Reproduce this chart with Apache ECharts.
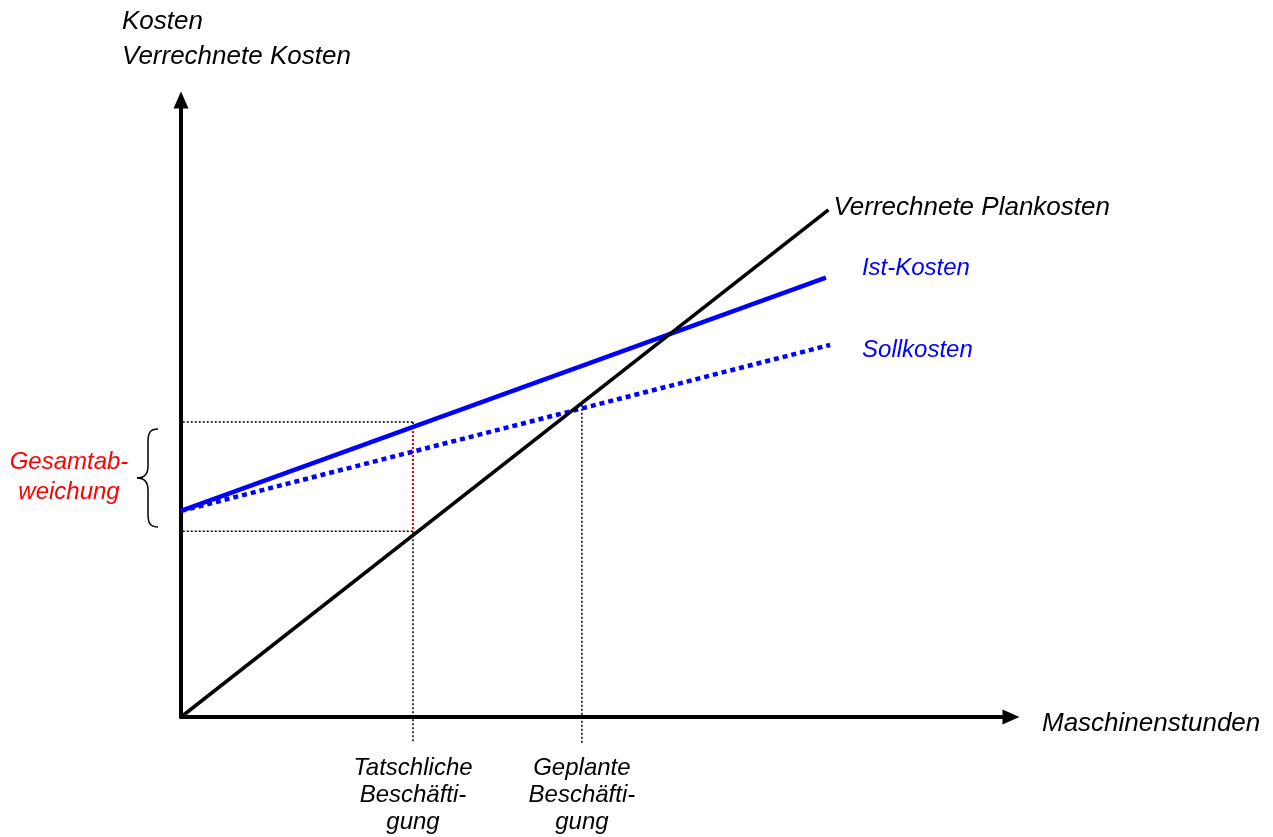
<!DOCTYPE html>
<html>
<head>
<meta charset="utf-8">
<script src="https://cdn.jsdelivr.net/npm/echarts@6/dist/echarts.min.js"></script>
<style>html,body{margin:0;padding:0;background:#fff}#main{width:1273px;height:837px}</style>
</head>
<body>
<div id="main"></div>
<script>
// Kostengeraden (x = Maschinenstunden, y = Kosten), Endpunkte
var plankosten = [[0, 0], [78, 82.2]];
var istKosten = [[0, 33.4], [77.7, 71.2]];
var sollKosten = [[0, 33.4], [78.2, 60.3]];
// Beschäftigung auf der x-Achse
var tatsaechlich = 27.95;
var geplant = 48.3;
var beschLabels = ['Tatschliche\nBeschäfti-\ngung', 'Geplante\nBeschäfti-\ngung'];
// Hilfslinien Gesamtabweichung
var istBeiTat = 47.8;
var rotOben = 47.0;
var planBeiTat = 30.1;
var sollBeiPlan = 50.6;
var hilfsLinks = -2.2;
var hilfsUnten = -4.2;

var FONT = 'Liberation Sans, Arial, sans-serif';
var chart = echarts.init(document.getElementById('main'));

function hilfslinie(data, color, width) {
    return {
        type: 'line', data: data, symbol: 'none', clip: false, silent: true, z: 1,
        lineStyle: { color: color || '#000', width: width || 1.5, type: [2, 2] }
    };
}
function kostenlinie(data, name, color, width, type, offset, size) {
    return {
        type: 'line', name: name, data: data, symbol: 'none', clip: false, z: 5,
        lineStyle: { color: color, width: width, type: type },
        endLabel: {
            show: true, formatter: name, offset: offset, distance: 4,
            color: color, fontStyle: 'italic', fontSize: size, fontFamily: FONT
        }
    };
}

var achse = { show: true, symbol: ['none', 'triangle'], symbolSize: [15, 17], lineStyle: { color: '#000', width: 4 } };

var option = {
    animation: false,
    grid: { left: 181, top: 100, right: 262, bottom: 120, outerBoundsMode: 'none', containLabel: false },
    xAxis: {
        type: 'value', min: 0, max: 100,
        name: 'Maschinenstunden', nameLocation: 'end', nameGap: 31,
        nameTextStyle: { fontStyle: 'italic', fontSize: 26, fontFamily: FONT, color: '#000', verticalAlign: 'top', lineHeight: 14 },
        axisLine: achse,
        axisTick: { show: false },
        splitLine: { show: false },
        axisLabel: {
            show: true, customValues: [tatsaechlich, geplant], margin: 38,
            formatter: function (v) { return v === tatsaechlich ? beschLabels[0] : beschLabels[1]; },
            fontStyle: 'italic', fontSize: 24, fontFamily: FONT, color: '#000', lineHeight: 27
        }
    },
    yAxis: {
        type: 'value', min: 0, max: 100,
        axisLine: achse,
        axisTick: { show: false },
        splitLine: { show: false },
        axisLabel: { show: false }
    },
    series: [
        hilfslinie([[hilfsLinks, istBeiTat], [tatsaechlich, istBeiTat]]),
        hilfslinie([[hilfsLinks, planBeiTat], [tatsaechlich, planBeiTat]]),
        hilfslinie([[tatsaechlich, istBeiTat], [tatsaechlich, rotOben]]),
        hilfslinie([[tatsaechlich, planBeiTat], [tatsaechlich, hilfsUnten]]),
        hilfslinie([[geplant, sollBeiPlan], [geplant, hilfsUnten]]),
        hilfslinie([[tatsaechlich, rotOben], [tatsaechlich, planBeiTat]], '#ff0000', 2.2),
        kostenlinie(sollKosten, 'Sollkosten', '#0000ff', 4.5, [5, 4], [28, 5], 24),
        kostenlinie(istKosten, 'Ist-Kosten', '#0000ff', 4.5, 'solid', [32, -9], 24),
        kostenlinie(plankosten, 'Verrechnete Plankosten', '#000', 3.5, 'solid', [1, -2], 26)
    ],
    graphic: [
        { type: 'text', x: 122, y: 4, style: { text: 'Kosten\nVerrechnete Kosten', font: 'italic 26px ' + FONT, lineHeight: 35, fill: '#000' } },
        { type: 'text', x: 69, y: 447, style: { text: 'Gesamtab-\nweichung', font: 'italic 24px ' + FONT, lineHeight: 30, fill: '#ff0000', align: 'center' } },
        { type: 'bezierCurve', shape: { x1: 158, y1: 429, cpx1: 150, cpy1: 429, cpx2: 148, cpy2: 433, x2: 148, y2: 442 }, style: { stroke: '#000', lineWidth: 1.5, fill: null } },
        { type: 'line', shape: { x1: 148, y1: 442, x2: 148, y2: 466 }, style: { stroke: '#000', lineWidth: 1.5 } },
        { type: 'bezierCurve', shape: { x1: 148, y1: 466, cpx1: 148, cpy1: 474, cpx2: 144, cpy2: 478, x2: 137, y2: 478 }, style: { stroke: '#000', lineWidth: 1.5, fill: null } },
        { type: 'bezierCurve', shape: { x1: 137, y1: 478, cpx1: 144, cpy1: 478, cpx2: 148, cpy2: 482, x2: 148, y2: 490 }, style: { stroke: '#000', lineWidth: 1.5, fill: null } },
        { type: 'line', shape: { x1: 148, y1: 490, x2: 148, y2: 514 }, style: { stroke: '#000', lineWidth: 1.5 } },
        { type: 'bezierCurve', shape: { x1: 148, y1: 514, cpx1: 148, cpy1: 523, cpx2: 150, cpy2: 527, x2: 158, y2: 527 }, style: { stroke: '#000', lineWidth: 1.5, fill: null } }
    ]
};
chart.setOption(option);
</script>
</body>
</html>
